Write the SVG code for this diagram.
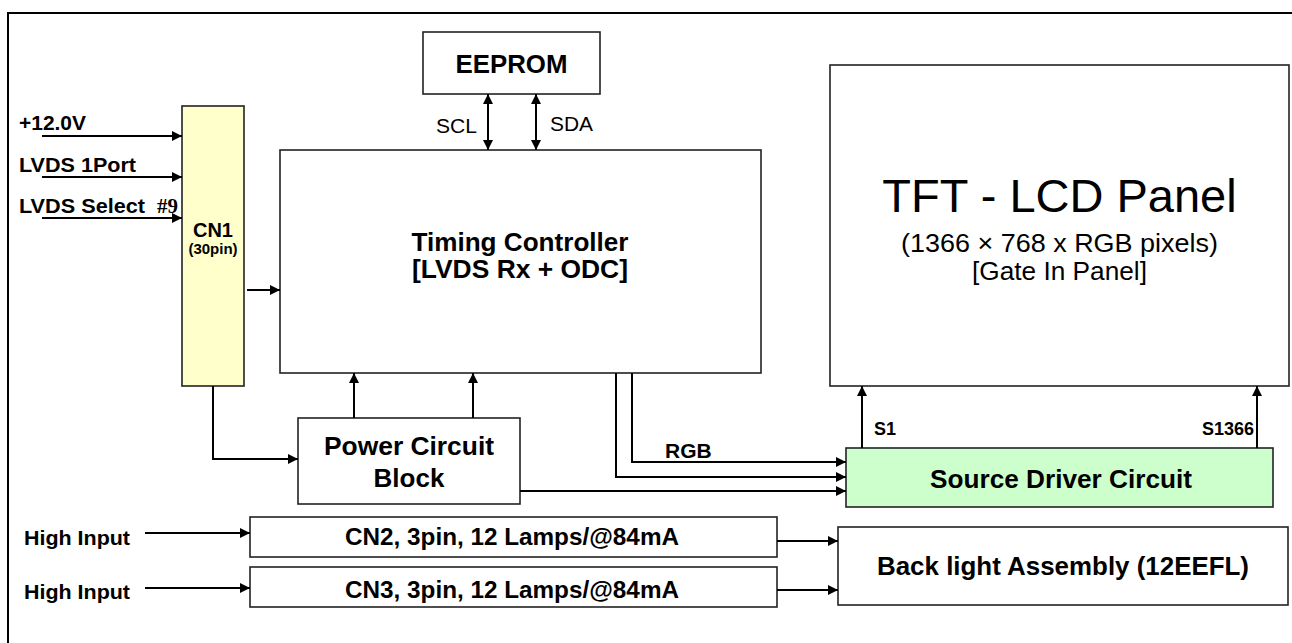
<svg xmlns="http://www.w3.org/2000/svg" width="1292" height="643" viewBox="0 0 1292 643">
<defs>
<marker id="ah" viewBox="0 0 10 10" refX="10" refY="5" markerWidth="10" markerHeight="10" markerUnits="userSpaceOnUse" orient="auto-start-reverse">
<path d="M0,0 L10,5 L0,10 z" fill="#000"/>
</marker>
<style>
.box{fill:#fff;stroke:#222;stroke-width:1.6}
.b{font-family:"Liberation Sans",Arial,sans-serif;font-weight:bold;fill:#000}
.r{font-family:"Liberation Sans",Arial,sans-serif;fill:#000}
.ca{stroke:#000;stroke-width:2;fill:none;marker-end:url(#ah)}
</style>
</defs>
<rect width="1292" height="643" fill="#fff"/>
<path d="M8,643 V13 H1292" stroke="#000" stroke-width="2" fill="none"/>

<g id="labels-left">
<text class="b" x="19" y="130" font-size="21" textLength="67" lengthAdjust="spacingAndGlyphs">+12.0V</text>
<text class="b" x="19" y="172" font-size="21" textLength="117" lengthAdjust="spacingAndGlyphs">LVDS 1Port</text>
<text class="b" x="19" y="213" font-size="21" textLength="126" lengthAdjust="spacingAndGlyphs">LVDS Select</text>
<text x="157" y="213" font-size="21" font-weight="bold" font-family="'Liberation Serif','Times New Roman',serif">#9</text>
<text class="b" x="24" y="545" font-size="21" textLength="106" lengthAdjust="spacingAndGlyphs">High Input</text>
<text class="b" x="24" y="599" font-size="21" textLength="106" lengthAdjust="spacingAndGlyphs">High Input</text>
</g>

<g id="cn1">
<rect x="182" y="106" width="62" height="280" fill="#ffffcc" stroke="#222" stroke-width="1.6"/>
<text class="b" x="213" y="237" font-size="20" text-anchor="middle">CN1</text>
<text class="b" x="213" y="254" font-size="15" text-anchor="middle">(30pin)</text>
</g>

<g id="eeprom">
<rect class="box" x="423" y="32" width="177" height="62"/>
<text class="b" x="511.5" y="73" font-size="25" text-anchor="middle" textLength="112" lengthAdjust="spacingAndGlyphs">EEPROM</text>
</g>

<g id="timing-controller">
<rect class="box" x="280" y="150" width="481" height="223"/>
<text class="b" x="520" y="251" font-size="25" text-anchor="middle" textLength="217" lengthAdjust="spacingAndGlyphs">Timing Controller</text>
<text class="b" x="520" y="278" font-size="25" text-anchor="middle" textLength="216" lengthAdjust="spacingAndGlyphs">[LVDS Rx + ODC]</text>
</g>

<g id="power-circuit">
<rect class="box" x="298" y="418" width="222" height="86"/>
<text class="b" x="409" y="455" font-size="26" text-anchor="middle" textLength="170" lengthAdjust="spacingAndGlyphs">Power Circuit</text>
<text class="b" x="409" y="487" font-size="26" text-anchor="middle">Block</text>
</g>

<g id="tft-panel">
<rect class="box" x="830" y="65" width="459" height="321"/>
<text class="r" x="1059.5" y="212" font-size="47" text-anchor="middle">TFT - LCD Panel</text>
<text class="r" x="1059.5" y="252" font-size="25" text-anchor="middle" textLength="317" lengthAdjust="spacingAndGlyphs">(1366 × 768 x RGB pixels)</text>
<text class="r" x="1059.5" y="280" font-size="25" text-anchor="middle" textLength="175" lengthAdjust="spacingAndGlyphs">[Gate In Panel]</text>
</g>

<g id="source-driver">
<rect x="846" y="448" width="427" height="59" fill="#ccffcc" stroke="#222" stroke-width="1.6"/>
<text class="b" x="1061" y="488" font-size="25" text-anchor="middle" textLength="262" lengthAdjust="spacingAndGlyphs">Source Driver Circuit</text>
</g>

<g id="cn2">
<rect class="box" x="250" y="517" width="527" height="40"/>
<text class="b" x="512" y="545" font-size="23" text-anchor="middle" textLength="334" lengthAdjust="spacingAndGlyphs">CN2, 3pin, 12 Lamps/@84mA</text>
</g>

<g id="cn3">
<rect class="box" x="250" y="567" width="527" height="40"/>
<text class="b" x="512" y="598" font-size="23" text-anchor="middle" textLength="334" lengthAdjust="spacingAndGlyphs">CN3, 3pin, 12 Lamps/@84mA</text>
</g>

<g id="backlight">
<rect class="box" x="838" y="527" width="450" height="78"/>
<text class="b" x="1063" y="575" font-size="25" text-anchor="middle" textLength="372" lengthAdjust="spacingAndGlyphs">Back light Assembly (12EEFL)</text>
</g>

<g id="connectors">
<line class="ca" x1="42" y1="136" x2="182" y2="136"/>
<line class="ca" x1="42" y1="177" x2="182" y2="177"/>
<line class="ca" x1="42" y1="218" x2="182" y2="218"/>
<line class="ca" x1="247" y1="290" x2="280" y2="290"/>
<line class="ca" x1="488" y1="150" x2="488" y2="94" style="marker-start:url(#ah)"/>
<line class="ca" x1="536" y1="150" x2="536" y2="94" style="marker-start:url(#ah)"/>
<text class="r" x="436" y="133" font-size="20" textLength="41" lengthAdjust="spacingAndGlyphs">SCL</text>
<text class="r" x="550" y="131" font-size="20" textLength="43" lengthAdjust="spacingAndGlyphs">SDA</text>
<line class="ca" x1="354" y1="418" x2="354" y2="373"/>
<line class="ca" x1="473" y1="418" x2="473" y2="373"/>
<polyline class="ca" points="213,386 213,459 298,459"/>
<polyline class="ca" points="632,373 632,462 846,462"/>
<polyline class="ca" points="616,373 616,477 846,477"/>
<line class="ca" x1="520" y1="491" x2="846" y2="491"/>
<text class="b" x="665" y="458" font-size="21">RGB</text>
<line class="ca" x1="862" y1="448" x2="862" y2="386"/>
<line class="ca" x1="1257" y1="448" x2="1257" y2="386"/>
<text class="b" x="874" y="435" font-size="18">S1</text>
<text class="b" x="1254" y="435" font-size="18" text-anchor="end">S1366</text>
<line class="ca" x1="145" y1="533" x2="250" y2="533"/>
<line class="ca" x1="145" y1="588" x2="250" y2="588"/>
<line class="ca" x1="777" y1="541" x2="838" y2="541"/>
<line class="ca" x1="777" y1="590" x2="838" y2="590"/>
</g>
</svg>
